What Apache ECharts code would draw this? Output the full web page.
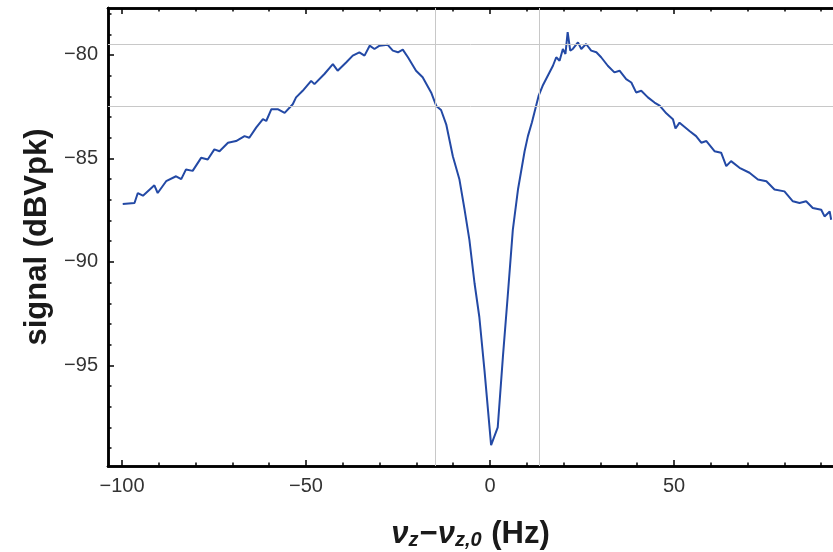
<!DOCTYPE html>
<html>
<head>
<meta charset="utf-8">
<script src="https://cdn.jsdelivr.net/npm/echarts@6/dist/echarts.min.js"></script>
<style>
html,body{margin:0;padding:0;background:#fff;}
#chart{width:833px;height:552px;}
</style>
</head>
<body>
<div id="chart"></div>
<script>
// Frequency offset (Hz)
const freq = [
-99.8,-96.6,-95.7,-94.3,-91.2,-90.3,-88.0,-85.3,-83.9,-82.6,-80.8,-78.5,-76.7,-74.9,-73.5,-71.2,-69.0,-66.7,-65.4,-63.5,
-61.7,-60.8,-59.4,-57.7,-55.8,-53.6,-52.7,-50.9,-48.6,-47.7,-45.0,-42.7,-41.4,-39.1,-37.3,-35.5,-34.1,-32.7,-31.4,-30.0,
-27.8,-26.4,-25.0,-23.7,-22.3,-20.1,-18.3,-16.0,-14.6,-13.3,-11.9,-10.1,-8.3,-6.9,-5.6,-4.2,-2.9,-1.5,0.3,2.1,
3.5,4.8,6.2,7.6,9.4,10.3,11.4,12.6,13.2,14.3,15.7,17.1,18.0,18.9,19.8,20.5,21.1,21.8,22.5,23.9,
24.8,26.1,27.5,28.9,30.2,32.0,33.8,35.2,37.0,38.4,39.7,41.1,42.9,44.7,46.1,47.9,49.7,50.4,51.5,54.2,
56.0,57.4,58.8,61.0,62.8,64.2,65.5,67.8,70.5,72.8,75.1,77.3,80.0,82.3,84.1,85.9,87.7,90.0,90.9,92.3,92.7
];
// Signal (dBVpk)
const signal = [
-87.2,-87.15,-86.67,-86.8,-86.3,-86.67,-86.1,-85.86,-86.0,-85.53,-85.6,-84.97,-85.05,-84.56,-84.65,-84.24,-84.16,-83.92,-84.0,-83.5,
-83.1,-83.19,-82.62,-82.62,-82.8,-82.38,-82.05,-81.73,-81.25,-81.41,-80.92,-80.44,-80.76,-80.36,-80.03,-79.87,-80.03,-79.55,-79.71,-79.55,
-79.51,-79.79,-79.87,-79.74,-80.11,-80.76,-81.08,-81.81,-82.46,-82.66,-83.35,-84.89,-86.02,-87.48,-88.93,-91.03,-92.66,-95.24,-98.85,-97.99,
-94.6,-91.68,-88.45,-86.5,-84.65,-83.92,-83.25,-82.4,-81.98,-81.49,-81.0,-80.52,-80.11,-80.28,-79.71,-79.95,-78.9,-79.79,-79.71,-79.39,
-79.71,-79.47,-79.79,-79.87,-80.11,-80.52,-80.84,-80.76,-81.17,-81.33,-81.81,-81.73,-82.05,-82.3,-82.45,-82.82,-83.1,-83.55,-83.27,-83.67,
-83.92,-84.24,-84.16,-84.65,-84.72,-85.37,-85.13,-85.45,-85.69,-86.02,-86.1,-86.5,-86.59,-87.07,-87.15,-87.07,-87.39,-87.48,-87.8,-87.56,-87.96
];
// Reference lines
const vLines = [-14.9, 13.3];
const hLines = [-79.5, -82.5];
// Tick values
const xMajor = [-100, -50, 0, 50];
const xMinor = [-100,-90,-80,-70,-60,-50,-40,-30,-20,-10,0,10,20,30,40,50,60,70,80,90];
const yMajor = [-95, -90, -85, -80];
const yMinor = [-99,-98,-97,-96,-95,-94,-93,-92,-91,-90,-89,-88,-87,-86,-85,-84,-83,-82,-81,-80,-79,-78];

const X_MIN = -103.8, X_MAX = 93.2;
const Y_MIN = -99.86, Y_MAX = -77.73;

const FONT = 'Liberation Sans, Arial, sans-serif';
const fmt = v => String(v).replace('-', '\u2212');
const axisLineStyle = {show: true, onZero: false, lineStyle: {color: '#000', width: 2.5}};
const labelFont = {fontFamily: FONT, fontSize: 20, color: '#333'};

function xAx(pos, ticks, len, labels) {
  return {
    type: 'value', position: pos, min: X_MIN, max: X_MAX,
    axisLine: axisLineStyle,
    splitLine: {show: false},
    axisTick: {show: true, inside: true, length: len, customValues: ticks, lineStyle: {color: '#000', width: 1.5}},
    axisLabel: labels ? Object.assign({show: true, customValues: xMajor, formatter: fmt, margin: 10}, labelFont) : {show: false}
  };
}
function yAx(ticks, len, labels, withName) {
  const a = {
    type: 'value', position: 'left', min: Y_MIN, max: Y_MAX,
    axisLine: axisLineStyle,
    splitLine: {show: false},
    axisTick: {show: true, inside: true, length: len, customValues: ticks, lineStyle: {color: '#000', width: 1.5}},
    axisLabel: labels ? Object.assign({show: true, customValues: yMajor, formatter: fmt, margin: 10}, labelFont) : {show: false}
  };
  if (withName) {
    a.name = 'signal (dBVpk)';
    a.nameLocation = 'middle';
    a.nameGap = 47;
    a.nameTextStyle = {fontFamily: FONT, fontSize: 31, fontWeight: 'bold', color: '#1a1a1a'};
  }
  return a;
}

const xAxes = [xAx('bottom', xMajor, 6, true), xAx('bottom', xMinor, 3.5, false), xAx('top', xMajor, 6, false), xAx('top', xMinor, 3.5, false)];
xAxes[0].name = '{i|\u03bd}{s|z}{n|\u2212}{i|\u03bd}{s|z,0}{n| (Hz)}';
xAxes[0].nameLocation = 'middle';
xAxes[0].nameGap = 48;
xAxes[0].nameTextStyle = {
  rich: {
    i: {fontFamily: FONT, fontSize: 31, fontWeight: 'bold', fontStyle: 'italic', color: '#1a1a1a', lineHeight: 36, verticalAlign: 'bottom'},
    n: {fontFamily: FONT, fontSize: 31, fontWeight: 'bold', color: '#1a1a1a', lineHeight: 36, verticalAlign: 'bottom'},
    s: {fontFamily: FONT, fontSize: 20, fontWeight: 'bold', fontStyle: 'italic', color: '#1a1a1a', lineHeight: 28, verticalAlign: 'bottom', padding: [0, 1, 0, 0]}
  }
};

const chart = echarts.init(document.getElementById('chart'), null, {renderer: 'canvas'});
chart.setOption({
  animation: false,
  backgroundColor: '#fff',
  grid: {left: 108, top: 8, width: 725, height: 458, containLabel: false, outerBoundsMode: 'none'},
  xAxis: xAxes,
  yAxis: [yAx(yMajor, 6, true, true), yAx(yMinor, 3.5, false, false)],
  series: [
    {
      type: 'line', data: [], xAxisIndex: 0, yAxisIndex: 0, silent: true, z: 1,
      markLine: {
        silent: true, symbol: 'none', label: {show: false}, animation: false,
        lineStyle: {color: '#c8c8c8', type: 'solid', width: 1},
        data: vLines.map(v => ({xAxis: v})).concat(hLines.map(v => ({yAxis: v})))
      }
    },
    {
      type: 'line', xAxisIndex: 0, yAxisIndex: 0, z: 3,
      data: freq.map((f, i) => [f, signal[i]]),
      showSymbol: false, smooth: false,
      lineStyle: {color: '#2349a5', width: 2},
      itemStyle: {color: '#2349a5'}
    }
  ]
});
</script>
</body>
</html>
